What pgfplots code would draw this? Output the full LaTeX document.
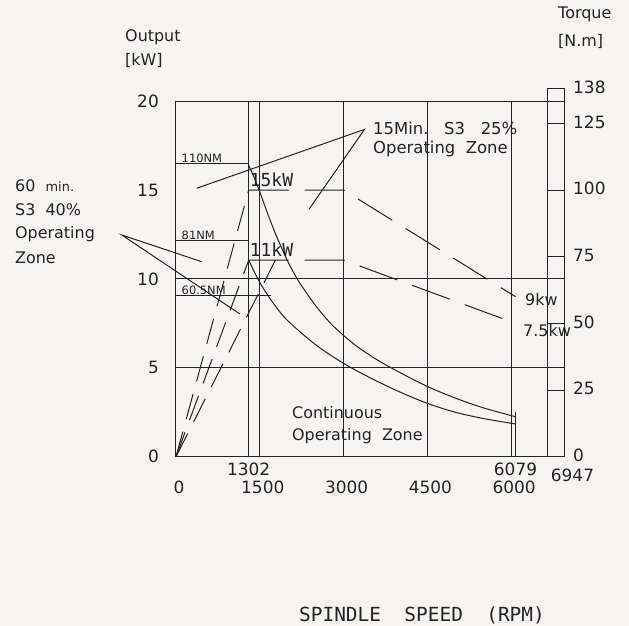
\documentclass[border=0pt]{standalone}
\usepackage{pgfplots}
\pgfplotsset{compat=1.18}
\usepackage{fontspec}
\setmainfont{DejaVu Sans}
\newfontfamily\monofont{DejaVu Sans Mono}
\definecolor{paper}{RGB}{247,245,243}
\definecolor{ink}{RGB}{35,35,35}
\begin{document}
\begin{tikzpicture}[x=1bp,y=1bp]
\fill[paper] (-176,-169.3) rectangle (453,456.7);
\begin{axis}[
  scale only axis, width=388bp, height=368bp,
  xmin=0, xmax=6947, ymin=0, ymax=20.7,
  clip=false,
  axis line style={draw=none},
  major tick length=0,
  /pgf/number format/assume math mode=true,
  xtick={0,1500,3000,4500,6000},
  xticklabels={0,1500,3000,4500,6000},
  xticklabel style={anchor=center, inner sep=0pt, yshift=-31bp, xshift=3bp, font=\fontsize{17}{17}\selectfont, text=ink},
  extra x ticks={1302,6079},
  extra x tick labels={1302,6079},
  extra x tick style={grid=none, xticklabel style={yshift=18bp, xshift=-3bp}},
  ytick={0,5,10,15,20},
  yticklabels={0,5,10,15,20},
  yticklabel style={anchor=east, inner sep=0pt, xshift=-17bp, font=\fontsize{17}{17}\selectfont, text=ink},
  every axis plot/.append style={ink, line width=1bp},
]
% grid / frame
\draw[ink, line width=1bp] (axis cs:0,0) -- (axis cs:6947,0);
\draw[ink, line width=1bp] (axis cs:0,5) -- (axis cs:6947,5);
\draw[ink, line width=1bp] (axis cs:0,10) -- (axis cs:6947,10);
\draw[ink, line width=1bp] (axis cs:0,20) -- (axis cs:6947,20);
\draw[ink, line width=1bp] (axis cs:0,0) -- (axis cs:0,20);
\draw[ink, line width=1bp] (axis cs:1302,0) -- (axis cs:1302,20);
\draw[ink, line width=1bp] (axis cs:1500,0) -- (axis cs:1500,20);
\draw[ink, line width=1bp] (axis cs:3000,0) -- (axis cs:3000,20);
\draw[ink, line width=1bp] (axis cs:4500,0) -- (axis cs:4500,20);
\draw[ink, line width=1bp] (axis cs:6000,0) -- (axis cs:6000,20);
\draw[ink, line width=1bp] (axis cs:6079,0) -- (axis cs:6079,2.5);
\draw[ink, line width=1bp] (axis cs:6650,0) -- (axis cs:6650,20.7) -- (axis cs:6947,20.7) -- (axis cs:6947,0);
\draw[ink, line width=1bp] (axis cs:6650,3.75) -- (axis cs:6947,3.75);
\draw[ink, line width=1bp] (axis cs:6650,7.5) -- (axis cs:6947,7.5);
\draw[ink, line width=1bp] (axis cs:6650,11.25) -- (axis cs:6947,11.25);
\draw[ink, line width=1bp] (axis cs:6650,15) -- (axis cs:6947,15);
\draw[ink, line width=1bp] (axis cs:6650,18.75) -- (axis cs:6947,18.75);
% torque limit lines
\addplot[no marks] coordinates {(0,16.5) (1302,16.5)};
\addplot[no marks] coordinates {(0,12.15) (1302,12.15)};
\addplot[no marks] coordinates {(0,9.075) (1709,9.075)};
% solid curves
\addplot[no marks, smooth] coordinates {(1302,16.4) (1400,15.7) (1500,14.9) (1650,13.6) (1800,12.4) (2000,11.0) (2200,9.85) (2500,8.5) (2800,7.4) (3200,6.3) (3600,5.45) (4000,4.75) (4500,3.95) (5000,3.3) (5500,2.75) (6079,2.25)};
\addplot[no marks, smooth] coordinates {(1302,11.06) (1500,9.8) (1750,8.6) (2000,7.65) (2500,6.3) (3000,5.25) (3500,4.4) (4000,3.65) (4500,3.0) (5000,2.5) (5500,2.15) (6079,1.84)};
% dashed S3 lines
\addplot[no marks, dash pattern=on 40bp off 16bp] coordinates {(1302,15) (3000,15) (6079,9.0)};
\addplot[no marks, dash pattern=on 40bp off 16bp] coordinates {(1302,11.06) (3000,11.06) (6079,7.5)};
\addplot[no marks, dash pattern=on 26bp off 13bp] coordinates {(0,0) (1302,15)};
\addplot[no marks, dash pattern=on 26bp off 13bp] coordinates {(0,0) (1302,11.06)};
\addplot[no marks, dash pattern=on 26bp off 13bp] coordinates {(0,0) (1780,11.06)};
% leader lines
\addplot[no marks] coordinates {(370,15.10) (3375,18.41) (2380,13.91)};
\addplot[no marks] coordinates {(459,10.97) (-970,12.47) (1143,8.03)};
% labels
\node[anchor=center, inner sep=0pt, font=\fontsize{17}{17}\selectfont, text=ink] at (axis cs:7099,-1.05) {6947};
\node[anchor=south west, inner sep=0.5bp, font=\fontsize{11.5}{11.5}\selectfont, text=ink] at (axis cs:90,16.5) {110NM};
\node[anchor=south west, inner sep=0.5bp, font=\fontsize{11.5}{11.5}\selectfont, text=ink] at (axis cs:90,12.15) {81NM};
\node[anchor=south west, inner sep=0.5bp, font=\fontsize{11.5}{11.5}\selectfont, text=ink] at (axis cs:90,9.075) {60.5NM};
\node[anchor=south west, inner sep=0.5bp, font=\monofont\fontsize{18}{18}\selectfont, text=ink] at (axis cs:1310,15.15) {15kW};
\node[anchor=south west, inner sep=0.5bp, font=\monofont\fontsize{18}{18}\selectfont, text=ink] at (axis cs:1310,11.2) {11kW};
\node[anchor=west, inner sep=0pt, font=\fontsize{16.5}{16.5}\selectfont, text=ink] at (axis cs:3527,18.49) {15Min.\ \ \ S3\ \ \ 25\%};
\node[anchor=west, inner sep=0pt, font=\fontsize{16.5}{16.5}\selectfont, text=ink] at (axis cs:3527,17.30) {Operating\ \ Zone};
\node[anchor=west, inner sep=0pt, font=\fontsize{16}{16}\selectfont, text=ink] at (axis cs:2077,2.46) {Continuous};
\node[anchor=west, inner sep=0pt, font=\fontsize{16}{16}\selectfont, text=ink] at (axis cs:2077,1.18) {Operating\ \ Zone};
\node[anchor=west, inner sep=0pt, font=\fontsize{16}{16}\selectfont, text=ink] at (axis cs:6249,8.84) {9kw};
\node[anchor=west, inner sep=0pt, font=\fontsize{16}{16}\selectfont, text=ink] at (axis cs:6213,7.07) {7.5kw};
\node[anchor=west, inner sep=0pt, font=\fontsize{16}{16}\selectfont, text=ink] at (axis cs:-2883,15.23) {60\ \ {\fontsize{13}{13}\selectfont min.}};
\node[anchor=west, inner sep=0pt, font=\fontsize{16}{16}\selectfont, text=ink] at (axis cs:-2883,13.90) {S3\ \ 40\%};
\node[anchor=west, inner sep=0pt, font=\fontsize{16}{16}\selectfont, text=ink] at (axis cs:-2883,12.50) {Operating};
\node[anchor=west, inner sep=0pt, font=\fontsize{16}{16}\selectfont, text=ink] at (axis cs:-2883,11.18) {Zone};
\node[anchor=west, inner sep=0pt, font=\fontsize{16}{16}\selectfont, text=ink] at (axis cs:-913,23.6) {Output};
\node[anchor=west, inner sep=0pt, font=\fontsize{16}{16}\selectfont, text=ink] at (axis cs:-913,22.30) {[kW]};
\node[anchor=west, inner sep=0pt, font=\fontsize{16}{16}\selectfont, text=ink] at (axis cs:6840,24.9) {Torque};
\node[anchor=west, inner sep=0pt, font=\fontsize{16}{16}\selectfont, text=ink] at (axis cs:6840,23.36) {[N.m]};
\node[anchor=center, inner sep=0pt, font=\monofont\fontsize{19.5}{19.5}\selectfont, text=ink] at (axis cs:4405,-8.9) {SPINDLE\ \ SPEED\ \ (RPM)};
\end{axis}
\begin{axis}[
  scale only axis, width=388bp, height=368bp,
  xmin=0, xmax=6947, ymin=0, ymax=138,
  hide x axis, axis y line*=right,
  axis line style={draw=none},
  major tick length=0,
  /pgf/number format/assume math mode=true,
  ytick={0,25,50,75,100,125,138},
  yticklabels={0,25,50,75,100,125,138},
  yticklabel style={anchor=west, inner sep=0pt, xshift=9bp, yshift=1.5bp, font=\fontsize{17}{17}\selectfont, text=ink},
]
\addplot[draw=none] coordinates {(0,0) (6947,138)};
\end{axis}
\end{tikzpicture}
\end{document}
